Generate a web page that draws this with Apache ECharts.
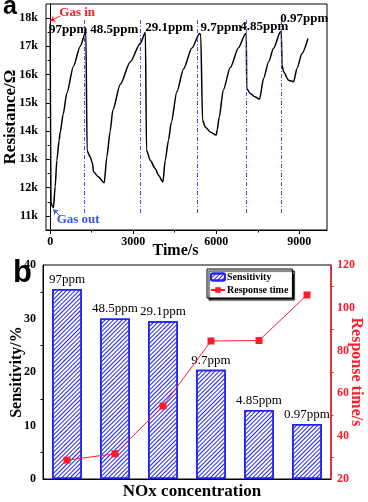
<!DOCTYPE html>
<html>
<head>
<meta charset="utf-8">
<script src="https://cdn.jsdelivr.net/npm/echarts@6/dist/echarts.min.js"></script>
<style>
html, body { margin: 0; padding: 0; background: #fff; }
#main { width: 368px; height: 502px; }
</style>
</head>
<body>
<div id="main"></div>
<script>
// panel a: resistance trace (time in s, resistance in kOhm)
var timeS = [0, 30, 70, 119, 181, 242, 325, 361, 470, 604, 842, 1084, 1290,
  1335, 1445, 1530, 1565, 1745, 1952, 2048, 2168, 2265, 2530, 2891, 3253, 3440,
  3480, 3614, 3795, 3914, 4073, 4156, 4275, 4373, 4579, 4817, 5121, 5396,
  5440, 5504, 5602, 5782, 5999, 6035, 6108, 6252, 6505, 6805, 7060,
  7085, 7100, 7228, 7409, 7564, 7709, 7889, 8070, 8320,
  8350, 8374, 8431, 8612, 8793, 8916, 9096, 9313];
var resistanceK = [17.81, 11.5, 11.35, 11.3, 12.03, 12.97, 13.68, 13.95, 14.6, 15.35, 16.3, 17.0, 17.52,
  13.3, 13.09, 12.86, 12.56, 12.38, 12.17, 13.09, 14.0, 14.75, 15.65, 16.45, 17.1, 17.5,
  13.33, 12.97, 12.68, 12.44, 12.2, 12.97, 13.68, 14.3, 15.4, 16.2, 16.94, 17.46,
  17.4, 14.39, 14.15, 13.97, 13.86, 14.05, 14.5, 15.45, 16.25, 16.95, 17.46,
  17.4, 15.51, 15.33, 15.21, 15.13, 15.87, 16.45, 16.93, 17.52,
  17.5, 16.34, 16.1, 15.8, 15.75, 16.22, 16.75, 17.28];
var gasInTimes = [1229, 3253, 5310, 7070, 8337];
var gasLineLow = 11.1, gasLineHigh = 17.95;
var ppmNames = ['97ppm', '48.5ppm', '29.1ppm', '9.7ppm', '4.85ppm', '0.97ppm'];
var ppmLabelAt = [[650, 17.61], [2313, 17.58], [4300, 17.66], [6180, 17.66], [7734, 17.7], [9180, 17.98]];
var timeTicks = [0, 3000, 6000, 9000];
var timeMinorTicks = [1500, 4500, 7500];
var resTicks = [11, 12, 13, 14, 15, 16, 17, 18];
var resMinorTicks = [11.5, 12.5, 13.5, 14.5, 15.5, 16.5, 17.5];

// panel b: sensitivity bars + response time line
var categories = ['97ppm', '48.5ppm', '29.1ppm', '9.7ppm', '4.85ppm', '0.97ppm'];
var sensitivity = [35.5, 30.0, 29.5, 20.4, 12.9, 10.3];
var responseTime = [28.8, 31.8, 54.1, 84.5, 84.7, 106];

var serif = '"Liberation Serif", "Times New Roman", serif';
var blue = '#2323f0';
var red = '#ff1a2a';

var traceData = timeS.map(function (t, i) { return [t, resistanceK[i]]; });

var markLines = gasInTimes.map(function (t) {
  return [{ coord: [t, gasLineLow] }, { coord: [t, gasLineHigh] }];
});
markLines.push([
  { coord: [361, 18.07], lineStyle: { color: red, type: 'solid', width: 1 } },
  { coord: [0, 17.9], symbol: 'arrow', symbolSize: 5 }
]);
markLines.push([
  { coord: [361, 10.99], lineStyle: { color: '#3355ee', type: 'solid', width: 1 } },
  { coord: [110, 11.23], symbol: 'arrow', symbolSize: 5 }
]);

var markPoints = ppmNames.map(function (n, i) {
  return { name: n, coord: ppmLabelAt[i] };
});
markPoints.push({ name: 'Gas in', coord: [976, 18.21], label: { color: red } });
markPoints.push({ name: 'Gas out', coord: [1012, 10.85], label: { color: '#3355ee' } });

var tickStyle = { color: '#000', width: 1 };
var labelStyle = { color: '#000', fontFamily: serif, fontWeight: 'bold', fontSize: 12 };
var nameStyle = { color: '#000', fontFamily: serif, fontWeight: 'bold', fontSize: 16 };

var myChart = echarts.init(document.getElementById('main'));
var option = {
  animation: false,
  title: [
    { text: 'a', left: 3, top: -5, padding: 0,
      textStyle: { fontFamily: '"Liberation Sans", Arial, sans-serif', fontSize: 25, fontWeight: 'bold', color: '#000' } },
    { text: 'b', left: 13, top: 258, padding: 0,
      textStyle: { fontFamily: '"Liberation Sans", Arial, sans-serif', fontSize: 31, fontWeight: 'bold', color: '#000' } }
  ],
  legend: {
    data: ['Sensitivity', 'Response time'],
    orient: 'vertical',
    left: 207, top: 269,
    itemWidth: 14, itemHeight: 7, itemGap: 3,
    padding: [3, 4, 3, 3],
    backgroundColor: '#fff',
    borderColor: '#000', borderWidth: 1,
    shadowColor: '#000', shadowBlur: 1, shadowOffsetX: 2, shadowOffsetY: 2,
    textStyle: { fontFamily: serif, fontWeight: 'bold', fontSize: 10, color: '#000', padding: [0, 0, 0, -3] }
  },
  grid: [
    { left: 46, top: 4, right: 41, height: 226, show: true, borderColor: '#000', borderWidth: 1, outerBoundsMode: 'none' },
    { left: 43, top: 265, right: 37, height: 214, show: true, borderColor: '#000', borderWidth: 1, outerBoundsMode: 'none' }
  ],
  xAxis: [
    { type: 'value', gridIndex: 0, position: 'bottom', min: -150, max: 10000,
      name: 'Time/s', nameLocation: 'middle', nameGap: 13, nameMoveOverlap: false,
      nameTextStyle: Object.assign({ padding: [0, 22, 0, 0] }, nameStyle),
      axisLine: { onZero: false, lineStyle: tickStyle },
      axisTick: { customValues: timeTicks, length: 4, lineStyle: tickStyle },
      axisLabel: Object.assign({ customValues: timeTicks, margin: 6, formatter: function (v) { return String(v); } }, labelStyle),
      splitLine: { show: false } },
    { type: 'value', gridIndex: 0, position: 'bottom', min: -150, max: 10000,
      axisLine: { show: false },
      axisTick: { customValues: timeMinorTicks, length: 2.5, lineStyle: tickStyle },
      axisLabel: { show: false }, splitLine: { show: false } },
    { type: 'category', gridIndex: 1, position: 'bottom', data: categories,
      name: 'NOx concentration', nameLocation: 'middle', nameGap: 4, nameMoveOverlap: false,
      nameTextStyle: Object.assign({}, nameStyle, { fontSize: 17, padding: [0, 0, 0, 10] }),
      axisLine: { lineStyle: tickStyle },
      axisTick: { alignWithLabel: true, length: 4, lineStyle: tickStyle },
      axisLabel: { show: false } },
    { type: 'category', gridIndex: 1, position: 'bottom', data: categories,
      axisLine: { show: false },
      axisTick: { length: 2.5, lineStyle: tickStyle },
      axisLabel: { show: false } }
  ],
  yAxis: [
    { type: 'value', gridIndex: 0, position: 'left', min: 10.5, max: 18.5,
      name: 'Resistance/Ω', nameLocation: 'middle', nameGap: 27, nameMoveOverlap: false,
      nameTextStyle: Object.assign({}, nameStyle, { fontSize: 17 }),
      axisLine: { show: true, lineStyle: tickStyle },
      axisTick: { customValues: resTicks, length: 4, lineStyle: tickStyle },
      axisLabel: Object.assign({ customValues: resTicks, margin: 8, formatter: function (v) { return v + 'k'; } }, labelStyle),
      splitLine: { show: false } },
    { type: 'value', gridIndex: 0, position: 'left', min: 10.5, max: 18.5,
      axisLine: { show: false },
      axisTick: { customValues: resMinorTicks, length: 2.5, lineStyle: tickStyle },
      axisLabel: { show: false }, splitLine: { show: false } },
    { type: 'value', gridIndex: 1, position: 'left', min: 0, max: 40, interval: 10,
      name: 'Sensitivity/%', nameLocation: 'middle', nameGap: 18, nameMoveOverlap: false, nameTextStyle: nameStyle,
      axisLine: { show: true, lineStyle: tickStyle },
      axisTick: { length: 4, lineStyle: tickStyle },
      minorTick: { show: true, splitNumber: 2, length: 2.5, lineStyle: tickStyle },
      axisLabel: Object.assign({ margin: 7 }, labelStyle),
      splitLine: { show: false } },
    { type: 'value', gridIndex: 1, position: 'right', min: 20, max: 120, interval: 20,
      name: 'Response time/s', nameLocation: 'middle', nameGap: 17, nameRotate: -90, nameMoveOverlap: false,
      nameTextStyle: Object.assign({}, nameStyle, { color: red }),
      axisLine: { show: true, lineStyle: { color: red, width: 1.5 } },
      axisTick: { length: 4, lineStyle: { color: red, width: 1 } },
      minorTick: { show: true, splitNumber: 2, length: 2.5, lineStyle: { color: red, width: 1 } },
      axisLabel: Object.assign({}, labelStyle, { color: red, margin: 6 }),
      splitLine: { show: false } }
  ],
  series: [
    {
      name: 'Resistance', type: 'line', xAxisIndex: 0, yAxisIndex: 0,
      data: traceData, showSymbol: false, smooth: 0.25, smoothMonotone: 'x',
      lineStyle: { color: '#000', width: 1.5 },
      markLine: {
        silent: true, symbol: ['none', 'none'],
        lineStyle: { color: '#3a4dff', width: 1, type: [4, 2, 1, 2] },
        label: { show: false },
        data: markLines
      },
      markPoint: {
        silent: true, symbol: 'rect', symbolSize: 1,
        itemStyle: { color: 'rgba(0,0,0,0)' },
        label: { show: true, position: 'inside', formatter: '{b}', fontFamily: serif,
          fontWeight: 'bold', fontSize: 13, color: '#000' },
        data: markPoints
      }
    },
    {
      name: 'Sensitivity', type: 'bar', xAxisIndex: 2, yAxisIndex: 2,
      data: sensitivity, barWidth: '62%',
      itemStyle: {
        color: '#fff', borderColor: blue, borderWidth: 1.5,
        decal: { symbol: 'rect', symbolSize: 1, color: blue, dashArrayX: [1, 0], dashArrayY: [1, 2], rotation: -Math.PI / 4 }
      },
      label: { show: true, position: 'top', distance: 3, formatter: '{b}', fontFamily: serif,
        fontSize: 13, color: '#000' }
    },
    {
      name: 'Response time', type: 'line', xAxisIndex: 2, yAxisIndex: 3,
      data: responseTime, symbol: 'rect', symbolSize: 7,
      itemStyle: { color: red }, lineStyle: { color: red, width: 1 }
    }
  ]
};
myChart.setOption(option);
</script>
</body>
</html>
